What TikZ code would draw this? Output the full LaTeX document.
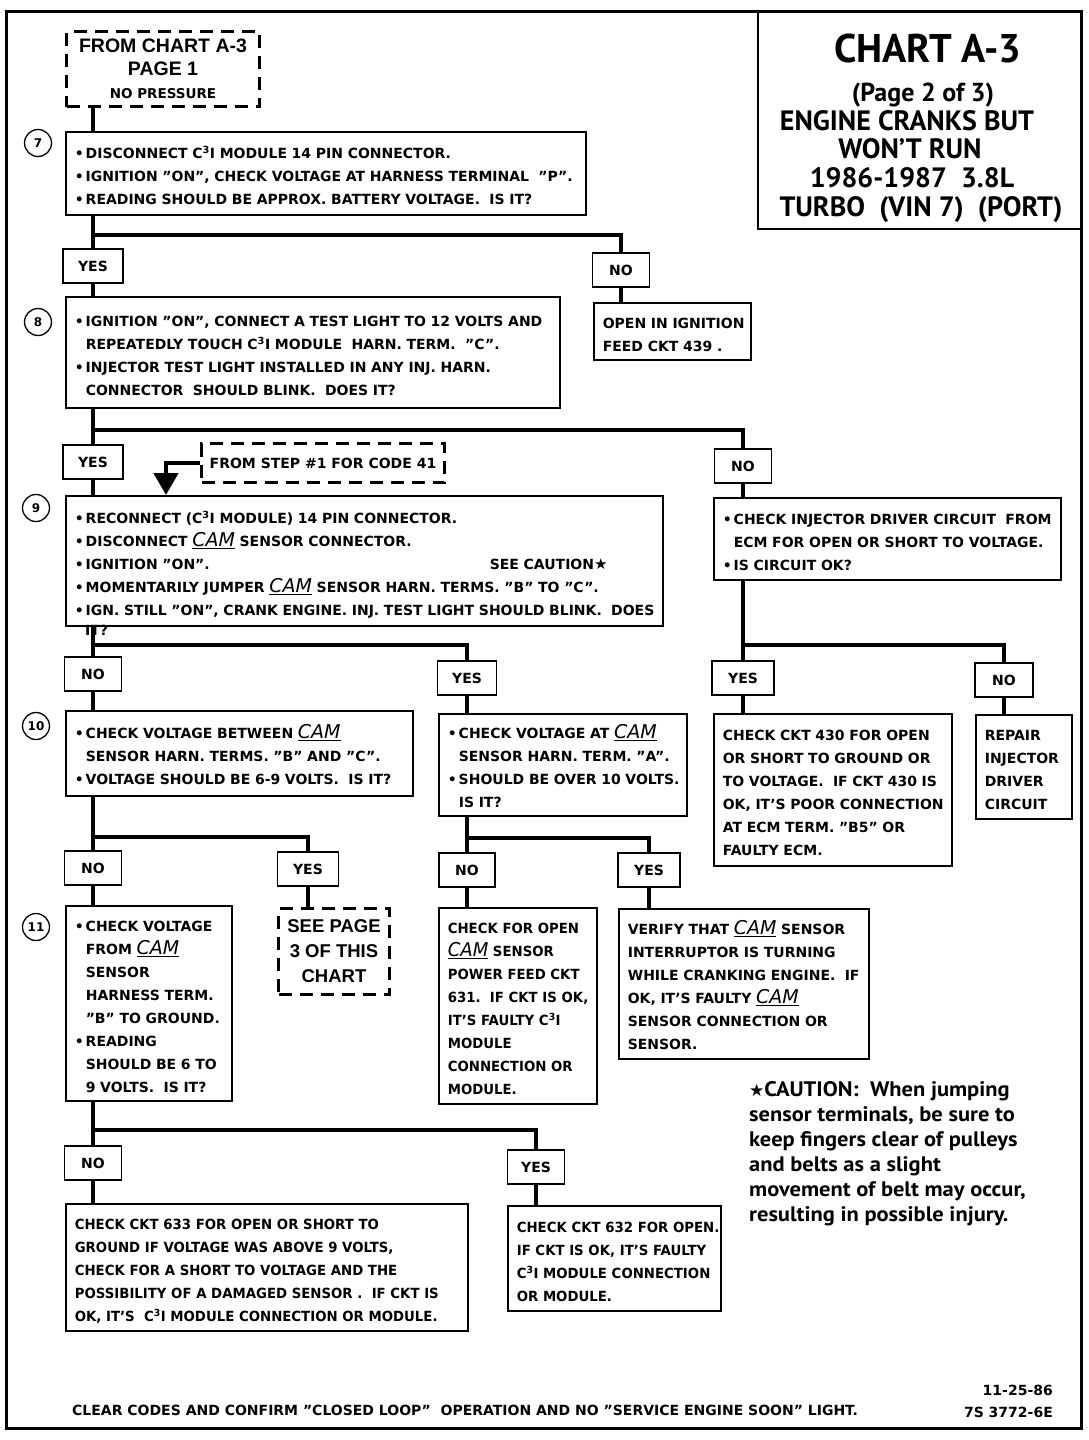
\documentclass[tikz,border=0pt]{standalone}
\usepackage{fontspec}
\setmainfont{DejaVu Sans}
\newfontfamily\symfont{DejaVu Sans}
\newfontfamily\condfont[FakeStretch=0.95,Ligatures=TeX]{DejaVu Sans}
\newfontfamily\helv[Ligatures=TeX]{Liberation Sans}
\newfontfamily\ptsans[Ligatures=TeX]{PT Sans}
\newfontfamily\cautionfont[FakeStretch=1.07,Ligatures=TeX]{PT Sans}
\usetikzlibrary{arrows.meta}
\newcommand{\Cthree}{C\textsuperscript{3}I}
\newcommand{\cam}{{\fontsize{19}{19}\selectfont\mdseries\itshape\underline{CAM}}}
\newcommand{\boxlines}[1]{\begin{tabular}{@{}l@{}}\rule{0pt}{24pt}#1\end{tabular}}
\newcommand{\ind}{\hspace*{11pt}}
\newcommand{\bul}{\textbullet\hspace{2pt}}
\newcommand{\flowbox}[7][]{%
  \pgfmathsetmacro{\fbtw}{#5-18}%
  \node[box, #1, minimum width=#5pt, minimum height=#6pt, text width=\fbtw pt] (#2) at (#3,#4) {\boxlines{#7}};}
\tikzset{
  box/.style={draw, line width=1.6pt, rectangle, anchor=north west, inner xsep=9pt, inner ysep=0pt,
    align=left, font=\bfseries\fontsize{14}{23}\selectfont},
  condbox/.style={font=\condfont\bfseries\fontsize{14}{23}\selectfont},
  lab/.style={draw, line width=1.6pt, rectangle, minimum height=34pt, inner sep=0pt,
    font=\bfseries\fontsize{14}{16}\selectfont},
  dbox/.style={draw, line width=3pt, dash pattern=on 13pt off 8pt, rectangle, anchor=north west,
    inner sep=0pt, align=center},
  circ/.style={draw, circle, line width=1.3pt, minimum size=27pt, inner sep=0pt,
    font=\bfseries\fontsize{12}{12}\selectfont},
  conn/.style={line width=4.6pt},
  ttl/.style={anchor=base, inner sep=0pt},
}
\begin{document}
\begin{tikzpicture}[x=1pt,y=-1pt]
\useasboundingbox (0,0) rectangle (1088,1440);
% frame and title
\node[draw, line width=3pt, anchor=north west, minimum width=1075pt, minimum height=1417pt, inner sep=0pt] (frame) at (5,10) {};
\node[draw, line width=1.6pt, anchor=north west, minimum width=323pt, minimum height=218pt, inner sep=0pt] (tbox) at (757,10) {};
\node[ttl, font=\ptsans\bfseries\fontsize{40}{42}\selectfont] (t1) at (928,62) {CHART A-3};
\node[ttl, font=\ptsans\bfseries\fontsize{26}{28}\selectfont] (t2) at (923,101) {(Page 2 of 3)};
\node[ttl, font=\ptsans\bfseries\fontsize{28}{30}\selectfont] (t3) at (907,130) {ENGINE CRANKS BUT};
\node[ttl, font=\ptsans\bfseries\fontsize{28}{30}\selectfont] (t4) at (910,158) {WON'T RUN};
\node[ttl, font=\ptsans\bfseries\fontsize{28}{30}\selectfont] (t5) at (912,187) {1986-1987\ \ 3.8L};
\node[ttl, font=\ptsans\bfseries\fontsize{28}{30}\selectfont] (t6) at (921,216) {TURBO\ \ (VIN 7)\ \ (PORT)};

% start
\node[dbox, minimum width=193pt, minimum height=75pt, font=\helv\bfseries\fontsize{19.5}{23}\selectfont] (start) at (65,30)
  {FROM CHART A-3\\PAGE 1\\{\normalfont\bfseries\fontsize{13.5}{16}\selectfont NO PRESSURE}};

% circles
\node[circ] (c7) at (38,143) {7};
\node[circ] (c8) at (38,322) {8};
\node[circ] (c9) at (36,508) {9};
\node[circ] (c10) at (36,726) {10};
\node[circ] (c11) at (36,927) {11};

% step 7
\flowbox{b7}{65}{131}{520}{83}{\bul DISCONNECT \Cthree\ MODULE 14 PIN CONNECTOR.\\
\bul IGNITION "ON", CHECK VOLTAGE AT HARNESS TERMINAL\ \ "P".\\
\bul READING SHOULD BE APPROX. BATTERY VOLTAGE.\ \ IS IT?}
\node[lab, minimum width=60pt] (y7) at (93,266) {YES};
\node[lab, minimum width=57pt] (n7) at (621,270) {NO};
\flowbox{r7}{593}{302}{157}{57}{OPEN IN IGNITION\\FEED CKT 439 .}

% step 8
\flowbox{b8}{65}{296}{494}{111}{\bul IGNITION "ON", CONNECT A TEST LIGHT TO 12 VOLTS AND\\
\ind REPEATEDLY TOUCH \Cthree\ MODULE\ \ HARN. TERM.\ \ "C".\\
\bul INJECTOR TEST LIGHT INSTALLED IN ANY INJ. HARN.\\
\ind CONNECTOR\ \ SHOULD BLINK.\ \ DOES IT?}
\node[lab, minimum width=60pt] (y8) at (93,462) {YES};
\node[lab, minimum width=57pt] (n8) at (743,466) {NO};
\node[dbox, minimum width=243pt, minimum height=39pt, font=\bfseries\fontsize{14}{16}\selectfont] (fs) at (200,442) {FROM STEP \#1 FOR CODE 41};

% step 9
\flowbox{b9}{65}{495}{597}{130}{\bul RECONNECT (\Cthree\ MODULE) 14 PIN CONNECTOR.\\
\bul DISCONNECT \cam\ SENSOR CONNECTOR.\\
\makebox[415pt][l]{\bul IGNITION "ON".}SEE CAUTION{\fontsize{15}{15}\selectfont ★}\\
\bul MOMENTARILY JUMPER \cam\ SENSOR HARN. TERMS. "B" TO "C".\\
\bul IGN. STILL "ON", CRANK ENGINE. INJ. TEST LIGHT SHOULD BLINK.\ \ DOES}
\node[anchor=west, font=\bfseries\fontsize{14}{16}\selectfont, inner sep=0pt] (it) at (85,630) {IT?};
\flowbox{r8}{713}{497}{347}{82}{\bul CHECK INJECTOR DRIVER CIRCUIT\ \ FROM\\
\ind ECM FOR OPEN OR SHORT TO VOLTAGE.\\
\bul IS CIRCUIT OK?}
\node[lab, minimum width=57pt] (n9) at (93,674) {NO};
\node[lab, minimum width=59pt] (y9) at (467,678) {YES};
\node[lab, minimum width=62pt] (y9r) at (743,678) {YES};
\node[lab, minimum width=58pt] (n9r) at (1004,680) {NO};
\flowbox{c430}{713}{713}{238}{152}{CHECK CKT 430 FOR OPEN\\OR SHORT TO GROUND OR\\TO VOLTAGE.\ \ IF CKT 430 IS\\
OK, IT'S POOR CONNECTION\\AT ECM TERM. "B5" OR\\FAULTY ECM.}
\flowbox{rep}{975}{714}{96}{104}{REPAIR\\INJECTOR\\DRIVER\\CIRCUIT}

% step 10
\flowbox{b10}{65}{710}{347}{85}{\bul CHECK VOLTAGE BETWEEN \cam\\
\ind SENSOR HARN. TERMS. "B" AND "C".\\
\bul VOLTAGE SHOULD BE 6-9 VOLTS.\ \ IS IT?}
\flowbox{bca}{438}{713}{248}{102}{\bul CHECK VOLTAGE AT \cam\\
\ind SENSOR HARN. TERM. "A".\\
\bul SHOULD BE OVER 10 VOLTS.\\
\ind IS IT?}
\node[lab, minimum width=57pt] (n10) at (93,868) {NO};
\node[lab, minimum width=61pt] (y10) at (308,869) {YES};
\node[lab, minimum width=56pt] (n10b) at (467,870) {NO};
\node[lab, minimum width=62pt] (y10b) at (649,870) {YES};

% step 11
\flowbox{b11}{65}{905}{166}{195}{\bul CHECK VOLTAGE\\
\ind FROM \cam\\
\ind SENSOR\\
\ind HARNESS TERM.\\
\ind "B" TO GROUND.\\
\bul READING\\
\ind SHOULD BE 6 TO\\
\ind 9 VOLTS.\ \ IS IT?}
\node[dbox, minimum width=111pt, minimum height=86pt, font=\helv\bfseries\fontsize{18.5}{25}\selectfont] (see3) at (277,907) {SEE PAGE\\3 OF THIS\\CHART};
\flowbox[condbox]{op631}{438}{907}{158}{196}{CHECK FOR OPEN\\
\cam\ SENSOR\\
POWER FEED CKT\\
631.\ \ IF CKT IS OK,\\
IT'S FAULTY \Cthree\\
MODULE\\
CONNECTION OR\\
MODULE.}
\flowbox{ver}{618}{908}{250}{150}{VERIFY THAT \cam\ SENSOR\\
INTERRUPTOR IS TURNING\\
WHILE CRANKING ENGINE.\ \ IF\\
OK, IT'S FAULTY \cam\\
SENSOR CONNECTION OR\\
SENSOR.}
\node[anchor=north west, align=left, inner sep=0pt, font=\cautionfont\bfseries\fontsize{21}{25}\selectfont] (caution) at (749,1081)
  {{\symfont\fontsize{17}{17}\selectfont ★}CAUTION:\ \ When jumping\\
  sensor terminals, be sure to\\
  keep fingers clear of pulleys\\
  and belts as a slight\\
  movement of belt may occur,\\
  resulting in possible injury.};
\node[lab, minimum width=57pt] (n11) at (93,1163) {NO};
\node[lab, minimum width=57pt] (y11) at (536,1167) {YES};
\flowbox[condbox]{b633}{65}{1203}{402}{127}{CHECK CKT 633 FOR OPEN OR SHORT TO\\
GROUND IF VOLTAGE WAS ABOVE 9 VOLTS,\\
CHECK FOR A SHORT TO VOLTAGE AND THE\\
POSSIBILITY OF A DAMAGED SENSOR .\ \ IF CKT IS\\
OK, IT'S\ \ \Cthree\ MODULE CONNECTION OR MODULE.}
\flowbox[condbox]{b632}{507}{1205}{213}{105}{CHECK CKT 632 FOR OPEN.\\
IF CKT IS OK, IT'S FAULTY\\
\Cthree\ MODULE CONNECTION\\
OR MODULE.}

% footer
\node[anchor=base west, inner sep=0pt, font=\bfseries\fontsize{14}{16}\selectfont] (foot) at (72,1415)
  {CLEAR CODES AND CONFIRM "CLOSED LOOP"\ \ OPERATION AND NO "SERVICE ENGINE SOON" LIGHT.};
\node[anchor=base east, inner sep=0pt, font=\bfseries\fontsize{14}{16}\selectfont] (date) at (1053,1395) {11-25-86};
\node[anchor=base east, inner sep=0pt, font=\bfseries\fontsize{14}{16}\selectfont] (code) at (1053,1417) {7S 3772-6E};

% connectors
\coordinate (xL) at (93,0);
\coordinate (xA) at (166,0);
\coordinate (j7) at (90.7,235);
\coordinate (j8) at (90.7,430);
\coordinate (j9) at (90.7,645);
\coordinate (jr) at (740.7,645);
\coordinate (j10) at (90.7,837);
\coordinate (j10b) at (464.7,838);
\coordinate (j11) at (90.7,1130);
\draw[conn] (start.south -| xL) -- (b7.north -| xL);
\draw[conn] (b7.south -| xL) -- (y7.north);
\draw[conn] (j7) -| (n7.north);
\draw[conn] (n7.south) -- (r7.north -| n7.south);
\draw[conn] (y7.south) -- (b8.north -| y7.south);
\draw[conn] (b8.south -| xL) -- (y8.north);
\draw[conn] (j8) -| (n8.north);
\draw[conn] (y8.south) -- (b9.north -| y8.south);
\draw[conn, -{Triangle[length=22pt,width=24pt]}] (fs.west) -| (b9.north -| xA);
\draw[conn] (n8.south) -- (r8.north -| n8.south);
\draw[conn] (r8.south -| n8.south) -- (y9r.north);
\draw[conn] (jr) -| (n9r.north);
\draw[conn] (y9r.south) -- (c430.north -| y9r.south);
\draw[conn] (n9r.south) -- (rep.north -| n9r.south);
\draw[conn] (b9.south -| xL) -- (n9.north);
\draw[conn] (j9) -| (y9.north);
\draw[conn] (n9.south) -- (b10.north -| n9.south);
\draw[conn] (y9.south) -- (bca.north -| y9.south);
\draw[conn] (b10.south -| xL) -- (n10.north);
\draw[conn] (j10) -| (y10.north);
\draw[conn] (n10.south) -- (b11.north -| n10.south);
\draw[conn] (y10.south) -- (see3.north -| y10.south);
\draw[conn] (bca.south -| y9.south) -- (n10b.north);
\draw[conn] (j10b) -| (y10b.north);
\draw[conn] (n10b.south) -- (op631.north -| n10b.south);
\draw[conn] (y10b.south) -- (ver.north -| y10b.south);
\draw[conn] (b11.south -| xL) -- (n11.north);
\draw[conn] (j11) -| (y11.north);
\draw[conn] (n11.south) -- (b633.north -| n11.south);
\draw[conn] (y11.south) -- (b632.north -| y11.south);
\end{tikzpicture}
\end{document}
